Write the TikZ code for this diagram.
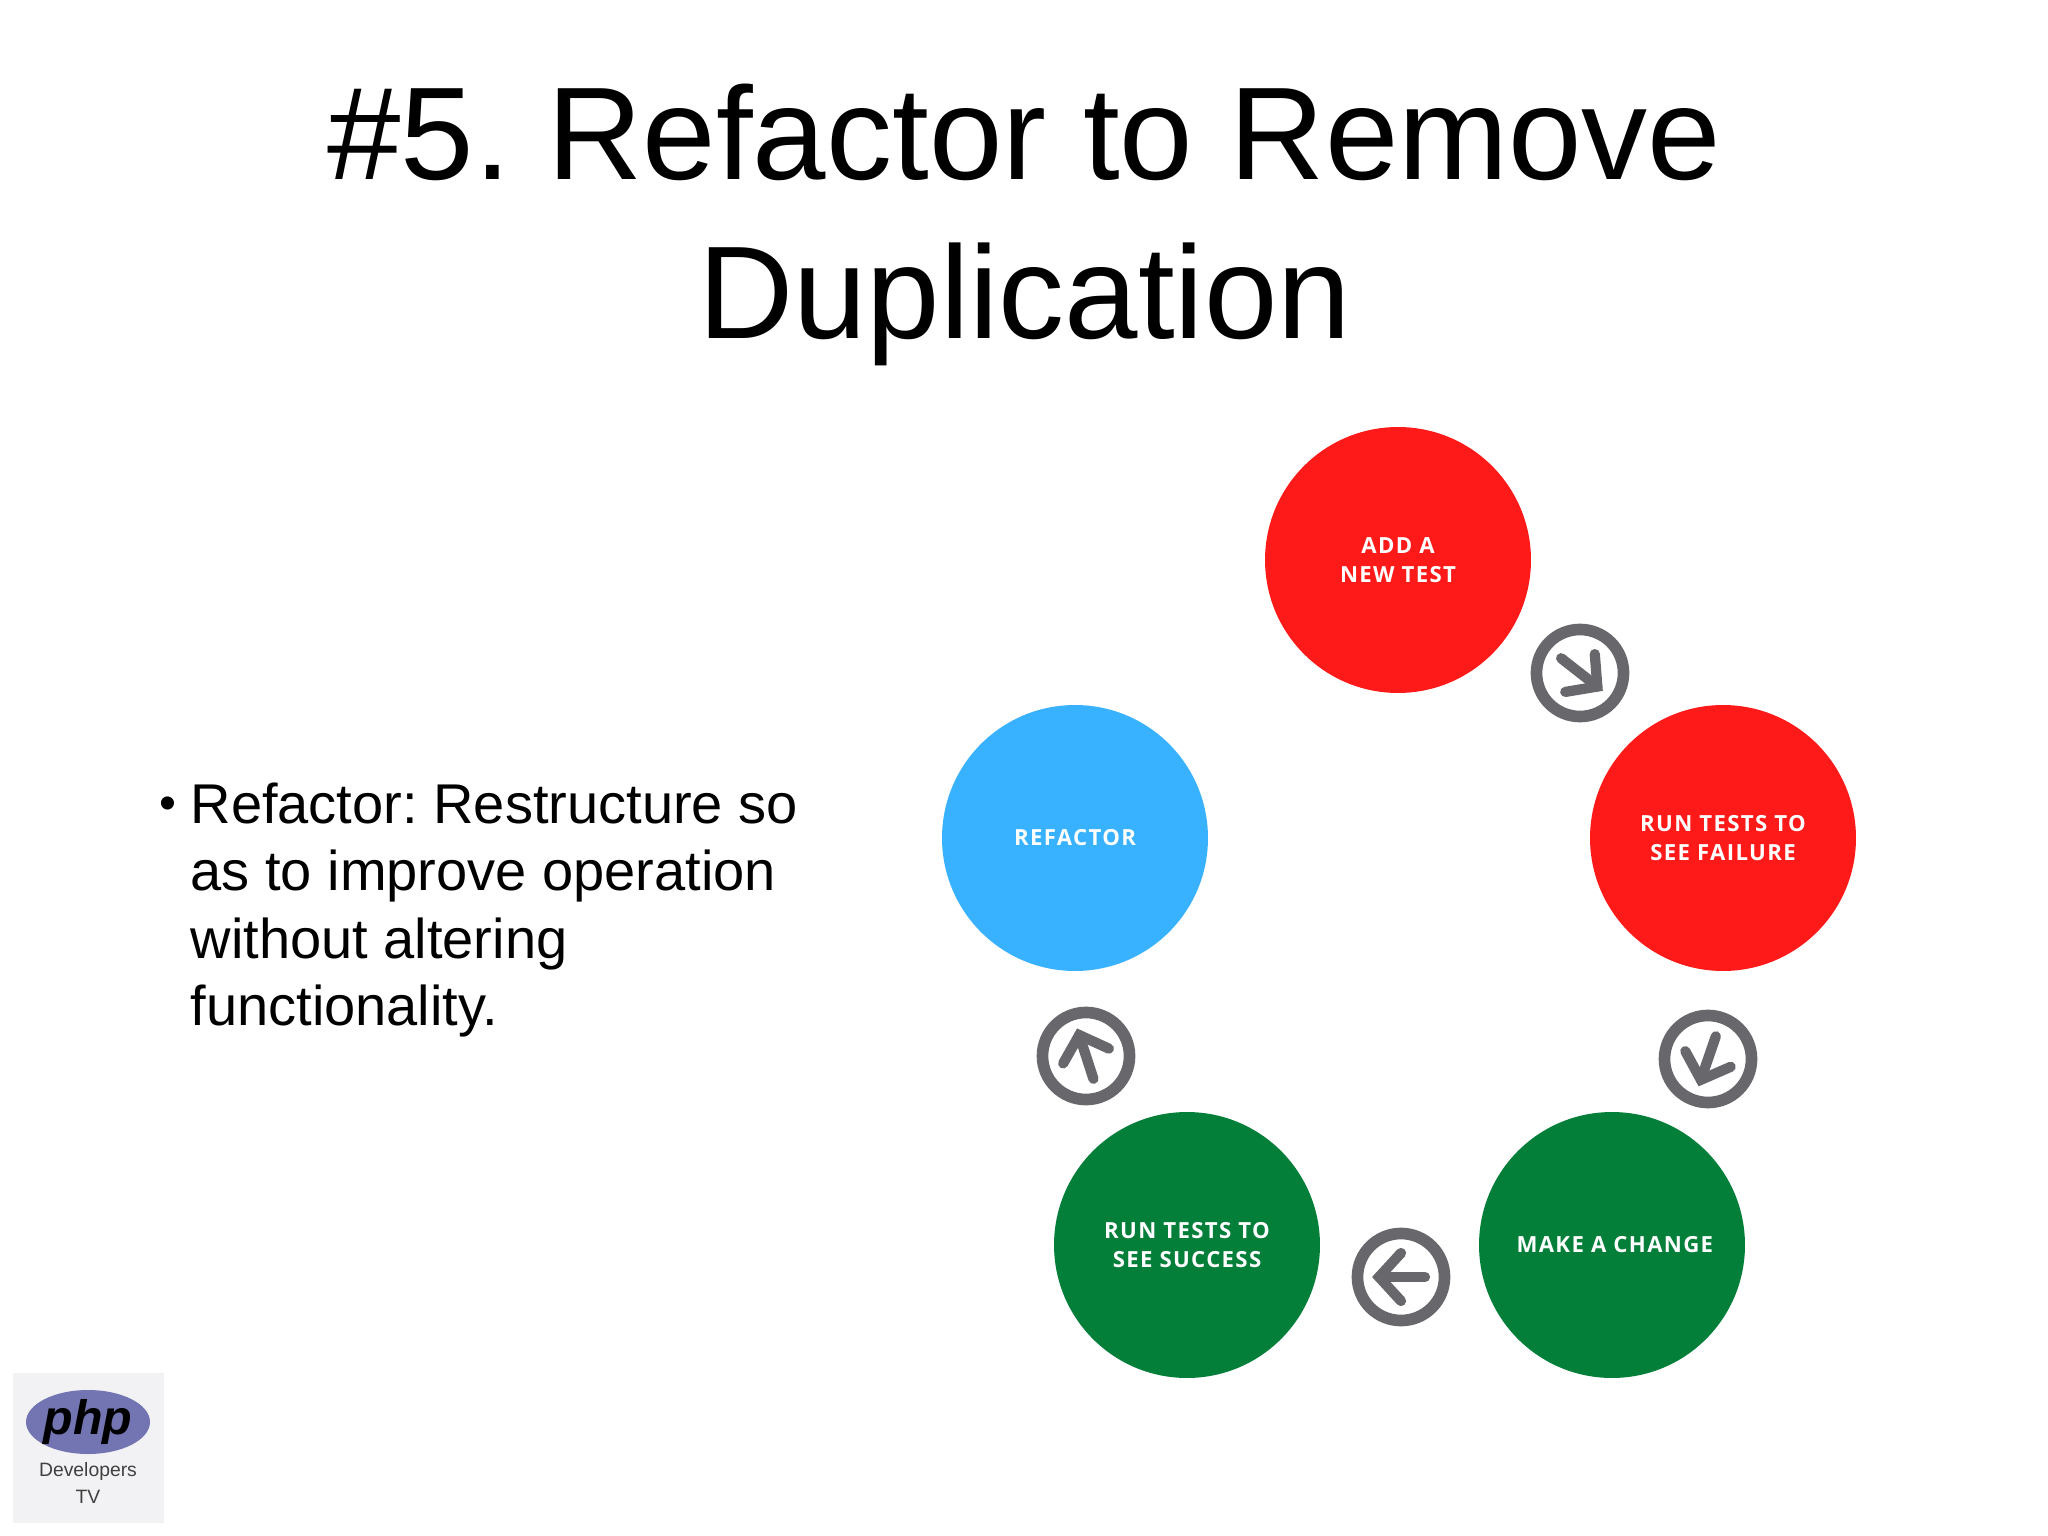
\documentclass[tikz,border=0pt]{standalone}
\usepackage{fontspec}
\usetikzlibrary{shapes.geometric}
\setmainfont{Liberation Sans}
\newfontfamily\stepfont[LetterSpace=6]{Open Sans}
\definecolor{stepred}{HTML}{FF1A1A}
\definecolor{stepblue}{HTML}{38B1FF}
\definecolor{stepgreen}{HTML}{047F3A}
\definecolor{icongray}{HTML}{68686C}
\definecolor{logobox}{HTML}{F2F2F4}
\definecolor{logoblue}{HTML}{7275B2}
\tikzset{
  stepnode/.style={circle, inner sep=0pt, minimum size=93.5pt, text=white, align=center,
    font=\stepfont\bfseries\fontsize{7.8}{10.3}\selectfont},
  iconnode/.style={circle, draw=icongray, line width=4.1pt, inner sep=0pt, minimum size=30.6pt},
  iconarrow/.style={draw=icongray, line width=3.6pt, line cap=round, miter limit=10},
  titletext/.style={inner sep=0pt, align=center, font=\fontsize{46.4}{56}\selectfont},
  bodytext/.style={inner sep=0pt, align=left, anchor=west, font=\fontsize{19.7}{23.6}\selectfont},
}
\frenchspacing

\begin{document}
\begin{tikzpicture}[x=0.3515625pt, y=0.3515625pt]

  % Page
  \path[use as bounding box, fill=white] (0,0) rectangle (2048,-1536);

  % Title and text
  \node[titletext] (title) at (1024.5,-225) {\#5. Refactor to Remove\\Duplication}; %
  \node[bodytext]  (body)  at (190,-910)  {Refactor: Restructure so\\as to improve operation\\without altering\\functionality.}; %
  \node[inner sep=0pt, font=\fontsize{17}{20}\selectfont] (bullet) at (167.5,-808) {•}; %

  % Steps
  \node[stepnode, fill=stepred]   (add)      at (1398,-560)  {ADD A\\NEW TEST}; %
  \node[stepnode, fill=stepred]   (fail)     at (1723,-838)  {RUN TESTS TO\\SEE FAILURE}; %
  \node[stepnode, fill=stepgreen] (change)   at (1612,-1245) {\hspace*{2pt}MAKE A CHANGE}; %
  \node[stepnode, fill=stepgreen] (success)  at (1187,-1245) {RUN TESTS TO\\SEE SUCCESS}; %
  \node[stepnode, fill=stepblue]  (refactor) at (1075,-838)  {REFACTOR}; %

  % Icons between the steps
  \node[iconnode] (add-fail)         at (1580,-673)  {}; %
  \node[iconnode] (fail-change)      at (1708,-1059) {}; %
  \node[iconnode] (change-success)   at (1401,-1277) {}; %
  \node[iconnode] (success-refactor) at (1086,-1056) {}; %

  \foreach \ic/\ang in {add-fail/-38, fail-change/-109, change-success/180, success-refactor/108} {
    \draw[iconarrow, shift={(\ic)}, rotate=\ang] (-24,0) -- (22,0);
    \draw[iconarrow, shift={(\ic)}, rotate=\ang] (0,24) -- (22,0) -- (0,-24);
  }

  % Logo
  \node[fill=logobox, inner sep=0pt, minimum size=52.9pt] (logo) at (88.5,-1448) {}; %
  \node[ellipse, fill=logoblue, inner sep=0pt, minimum width=43.6pt, minimum height=22.5pt] (php) at (88,-1422) {}; %
  \node[inner sep=0pt, font=\fontsize{17}{17}\selectfont\bfseries\itshape] (phptext) at (php) {php}; %
  \node[inner sep=0pt, text=black!75, font=\fontsize{6.8}{6.8}\selectfont] (dev) at (88,-1471) {Developers}; %
  \node[inner sep=0pt, text=black!75, font=\fontsize{6.8}{6.8}\selectfont] (tv)  at (88,-1497) {TV}; %

\end{tikzpicture}
\end{document}
